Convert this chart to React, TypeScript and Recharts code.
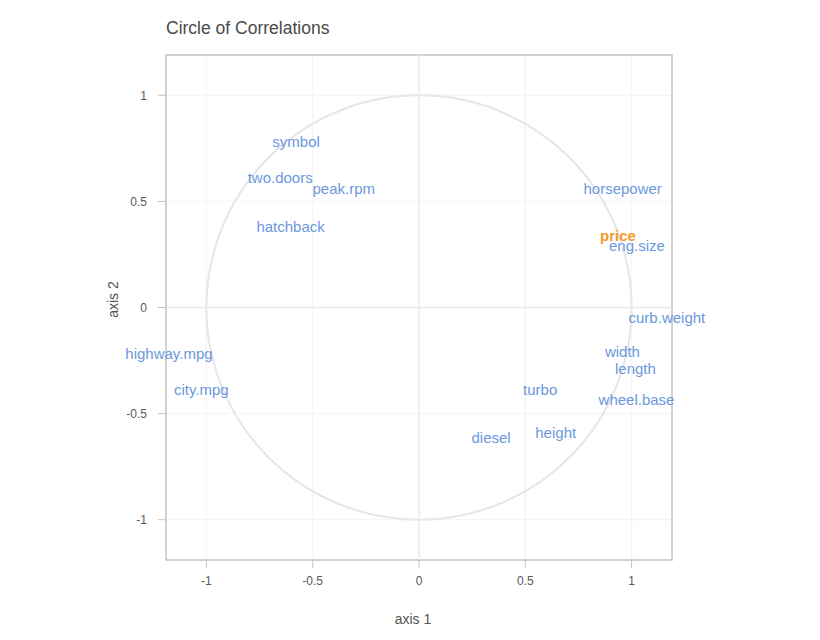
import { CartesianGrid, Label, ReferenceArea, ReferenceLine, Scatter, ScatterChart, XAxis, YAxis } from 'recharts';

// active variables, coordinates on the first two axes
const varNames = ['symbol', 'two.doors', 'peak.rpm', 'hatchback', 'horsepower', 'eng.size', 'curb.weight', 'width', 'length', 'wheel.base', 'turbo', 'height', 'diesel', 'highway.mpg', 'city.mpg'];
const varAxis1 = [-0.578, -0.653, -0.354, -0.604, 0.958, 1.025, 1.166, 0.957, 1.018, 1.023, 0.57, 0.643, 0.339, -1.176, -1.024];
const varAxis2 = [0.783, 0.611, 0.559, 0.382, 0.559, 0.293, -0.048, -0.208, -0.286, -0.435, -0.388, -0.591, -0.615, -0.215, -0.388];

// supplementary variable
const supNames = ['price'];
const supAxis1 = [0.936];
const supAxis2 = [0.34];

const ticks = [-1, -0.5, 0, 0.5, 1];
const lim = 1.19;

const BLUE = '#6b98dd';
const ORANGE = '#f59a2a';
const FONT = 'Arial, "Liberation Sans", sans-serif';

const active = varNames.map((name, i) => ({ name, x: varAxis1[i], y: varAxis2[i] }));
const supp = supNames.map((name, i) => ({ name, x: supAxis1[i], y: supAxis2[i] }));

function labelShape(color: string, bold = false) {
  return (p: any) => (
    <text
      x={p.cx}
      y={p.cy}
      textAnchor="middle"
      dominantBaseline="central"
      fontSize={15}
      fontFamily={FONT}
      fontWeight={bold ? 'bold' : 'normal'}
      fill={color}
    >
      {p.payload.name}
    </text>
  );
}

function XTitle({ viewBox }: any) {
  return (
    <text x={405} y={viewBox.y + 64} textAnchor="middle" fontSize={14} fontFamily={FONT} fill="#555">
      axis 1
    </text>
  );
}

function YTitle({ viewBox }: any) {
  const x = 110;
  const y = viewBox.y + viewBox.height / 2 - 8;
  return (
    <text x={x} y={y} transform={`rotate(-90, ${x}, ${y})`} textAnchor="middle" fontSize={14} fontFamily={FONT} fill="#555">
      axis 2
    </text>
  );
}

export default function App() {
  return (
    <div style={{ position: 'relative', width: 800, height: 624, fontFamily: FONT }}>
      <div style={{ position: 'absolute', left: 158, top: 10, fontSize: 17.5, color: '#4a4a4a', zIndex: 1 }}>
        Circle of Correlations
      </div>
      <ScatterChart width={800} height={624} margin={{ top: 47, right: 136, bottom: 4, left: 0 }}>
        <CartesianGrid stroke="#f5f5f5" strokeWidth={1.5} horizontalValues={ticks} verticalValues={ticks} />
        <XAxis
          type="number"
          dataKey="x"
          domain={[-lim, lim]}
          ticks={ticks}
          height={68}
          axisLine={false}
          tickSize={8}
          tickMargin={8}
          tickLine={{ stroke: '#c4c4c4' }}
          tick={{ fontSize: 12, fill: '#595959', fontFamily: FONT }}
        >
          <Label content={<XTitle />} />
        </XAxis>
        <YAxis
          type="number"
          dataKey="y"
          domain={[-lim, lim]}
          ticks={ticks}
          width={158}
          axisLine={false}
          tickSize={8}
          tickMargin={11}
          tickLine={{ stroke: '#c4c4c4' }}
          tick={{ fontSize: 12, fill: '#595959', fontFamily: FONT }}
        >
          <Label content={<YTitle />} />
        </YAxis>
        <ReferenceLine x={0} stroke="#ececec" strokeWidth={1.5} />
        <ReferenceLine y={0} stroke="#ececec" strokeWidth={1.5} />
        <ReferenceArea
          x1={-1}
          x2={1}
          y1={-1}
          y2={1}
          shape={(p: any) => (
            <ellipse
              cx={p.x + p.width / 2}
              cy={p.y + p.height / 2}
              rx={p.width / 2}
              ry={p.height / 2}
              fill="none"
              stroke="#e6e6e6"
              strokeWidth={2}
            />
          )}
        />
        <ReferenceArea x1={-lim} x2={lim} y1={-lim} y2={lim} fill="none" stroke="#c4c4c4" strokeWidth={1.5} />
        <Scatter data={active} shape={labelShape(BLUE)} isAnimationActive={false} />
        <Scatter data={supp} shape={labelShape(ORANGE, true)} isAnimationActive={false} />
      </ScatterChart>
    </div>
  );
}
